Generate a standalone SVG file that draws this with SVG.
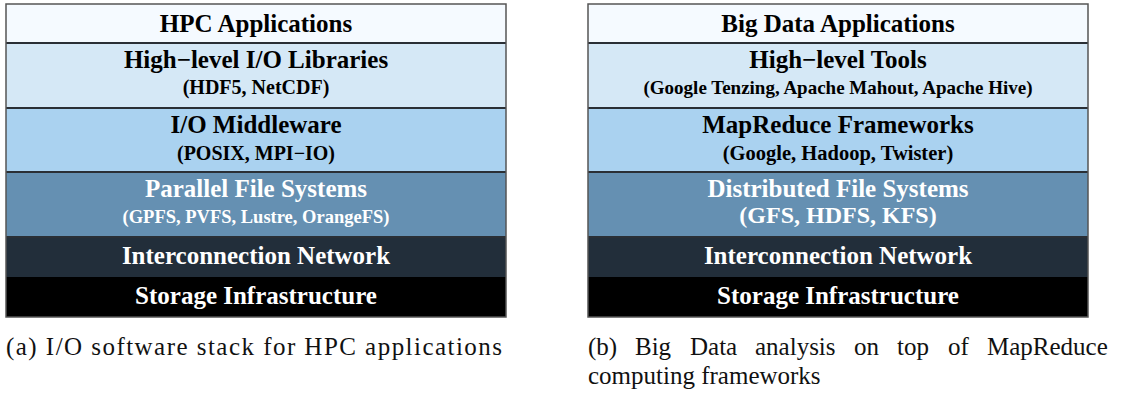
<svg xmlns="http://www.w3.org/2000/svg" width="1125" height="394" viewBox="0 0 1125 394">
<style>
.t{font-family:"Liberation Serif","Times New Roman",serif;font-weight:bold;font-size:25px;text-anchor:middle}
.s{font-family:"Liberation Serif","Times New Roman",serif;font-weight:bold;font-size:20px;text-anchor:middle}
.k{fill:#000}
.w{fill:#fff}
.cap{font-family:"Liberation Serif","DejaVu Serif",serif;font-size:25px;fill:#111}
.r1{fill:#f5faff}.r2{fill:#d5e8f6}.r3{fill:#aad2f0}.r4{fill:#6590b2}.r5{fill:#222e3a}.r6{fill:#000}
.sep{stroke:#2a2f35;stroke-width:2}
.frame{fill:none;stroke:#555;stroke-width:1.5}
</style>
<g id="stack-hpc">
<g id="hpc-apps"><rect class="r1" x="6" y="4" width="500" height="39"/><text class="t k" x="256" y="32">HPC Applications</text></g>
<g id="hpc-libs"><rect class="r2" x="6" y="43" width="500" height="65"/><text class="t k" x="256" y="68">High−level I/O Libraries</text><text class="s k" x="256" y="94">(HDF5, NetCDF)</text></g>
<g id="hpc-mw"><rect class="r3" x="6" y="108" width="500" height="64"/><text class="t k" x="256" y="133">I/O Middleware</text><text class="s k" x="256" y="160">(POSIX, MPI−IO)</text></g>
<g id="hpc-pfs"><rect class="r4" x="6" y="172" width="500" height="65"/><text class="t w" x="256" y="197">Parallel File Systems</text><text class="s w" x="256" y="223" style="font-size:18.5px">(GPFS, PVFS, Lustre, OrangeFS)</text></g>
<g id="hpc-net"><rect class="r5" x="6" y="237" width="500" height="40"/><text class="t w" x="256" y="264">Interconnection Network</text></g>
<g id="hpc-sto"><rect class="r6" x="6" y="277" width="500" height="40"/><text class="t w" x="256" y="304">Storage Infrastructure</text></g>
<line class="sep" x1="6" y1="43" x2="506" y2="43"/>
<line class="sep" x1="6" y1="108" x2="506" y2="108"/>
<line class="sep" x1="6" y1="172" x2="506" y2="172"/>
<line class="sep" x1="6" y1="237" x2="506" y2="237"/>
<rect class="frame" x="6" y="4" width="500" height="313"/>
</g>
<g id="stack-bigdata">
<g id="bd-apps"><rect class="r1" x="588" y="4" width="500" height="39"/><text class="t k" x="838" y="32">Big Data Applications</text></g>
<g id="bd-tools"><rect class="r2" x="588" y="43" width="500" height="65"/><text class="t k" x="838" y="68">High−level Tools</text><text class="s k" x="838" y="94" style="font-size:19px">(Google Tenzing, Apache Mahout, Apache Hive)</text></g>
<g id="bd-mr"><rect class="r3" x="588" y="108" width="500" height="64"/><text class="t k" x="838" y="133">MapReduce Frameworks</text><text class="s k" x="838" y="160" style="font-size:20.5px">(Google, Hadoop, Twister)</text></g>
<g id="bd-dfs"><rect class="r4" x="588" y="172" width="500" height="65"/><text class="t w" x="838" y="197">Distributed File Systems</text><text class="s w" x="838" y="223" style="font-size:24px">(GFS, HDFS, KFS)</text></g>
<g id="bd-net"><rect class="r5" x="588" y="237" width="500" height="40"/><text class="t w" x="838" y="264">Interconnection Network</text></g>
<g id="bd-sto"><rect class="r6" x="588" y="277" width="500" height="40"/><text class="t w" x="838" y="304">Storage Infrastructure</text></g>
<line class="sep" x1="588" y1="43" x2="1088" y2="43"/>
<line class="sep" x1="588" y1="108" x2="1088" y2="108"/>
<line class="sep" x1="588" y1="172" x2="1088" y2="172"/>
<line class="sep" x1="588" y1="237" x2="1088" y2="237"/>
<rect class="frame" x="588" y="4" width="500" height="313"/>
</g>
<g id="captions">
<text class="cap" x="6" y="355" textLength="496" lengthAdjust="spacing">(a) I/O software stack for HPC applications</text>
<text class="cap" y="355"><tspan x="588">(b)</tspan><tspan x="635">Big</tspan><tspan x="690">Data</tspan><tspan x="755">analysis</tspan><tspan x="854">on</tspan><tspan x="897">top</tspan><tspan x="948">of</tspan><tspan x="987">MapReduce</tspan></text>
<text class="cap" x="588" y="384">computing frameworks</text>
</g>
<g id="connectors"/>
</svg>
